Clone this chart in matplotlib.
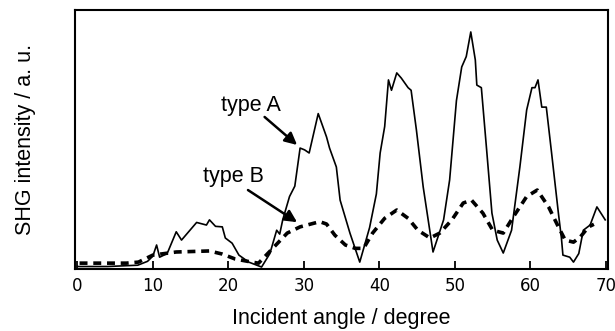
import numpy as np
from matplotlib import pyplot as plt

# type A (solid) - incident angle / intensity
angle_a = [0, 4, 8, 9.3, 10, 10.5, 10.9, 11.9, 13.1, 13.8, 15.8, 17.1, 17.5, 18.3, 19.2, 19.6,
           20.5, 21.4, 22.7, 24.4, 25.5, 26.4, 26.8, 27.2, 28.1, 28.8, 29.5, 30.1, 30.7, 31.9,
           33.0, 33.4, 34.3, 34.8, 36.1, 37.4, 38.7, 39.6, 40.1, 40.7, 41.2, 41.6, 42.3, 42.9,
           43.8, 44.2, 44.9, 45.8, 47.1, 48.5, 49.3, 50.2, 50.9, 51.5, 52.1, 52.7, 52.9, 53.5,
           54.2, 54.9, 55.6, 56.4, 57.5, 58.6, 59.5, 60.2, 60.6, 61.0, 61.5, 62.1, 62.8, 63.7,
           64.1, 64.3, 65.2, 65.7, 66.4, 67.0, 67.9, 68.8, 69.9]
int_a = [1, 1, 1.5, 3, 5, 9.3, 4.6, 6, 14.4, 11.2, 18, 17, 19, 16.5, 16.3, 12,
         10, 5.4, 2.7, 0.8, 6, 15, 13.5, 19, 28, 32, 46.7, 46, 44.8, 60,
         51, 46.7, 39.4, 26.6, 13.9, 2.7, 16, 29, 44.8, 55, 73, 69, 75.7, 73.7,
         70, 69, 53.7, 31.7, 6.6, 19, 34.4, 65, 78, 82, 91.5, 80.7, 71, 70,
         46, 21.6, 11.2, 6.2, 15, 39.4, 61.4, 70, 70, 73, 62.5, 62.5, 44.8, 21.6,
         12, 5.4, 4.6, 2.7, 6, 15, 17, 24, 19]

# type B (dashed)
angle_b = [0.3, 4, 6.5, 8.1, 10, 13.1, 17.5, 19.2, 20.9, 23.1, 24, 26, 27.8, 29.5, 32.1, 33,
           34.1, 35.5, 36.8, 37.9, 39.1, 40.7, 42.3, 43.8, 45.1, 46.7, 48, 49.6, 51.1, 52.2,
           53.7, 55.0, 56.4, 57.7, 59.5, 60.9, 62.4, 63.7, 64.6, 65.7, 66.6, 67.7, 68.4]
int_b = [2.3, 2.3, 2.3, 2.7, 5.4, 6.6, 7, 5.8, 3.9, 2.7, 2.3, 8.4, 13.9, 16.3, 18.3, 17.4,
         13.1, 9.3, 8, 8, 13.9, 19.6, 22.8, 19.6, 15, 12, 13.9, 19, 25.5, 26.6,
         21.6, 15, 13.9, 20, 28, 30.5, 24, 16.3, 11.2, 10.4, 12.4, 16.3, 17.3]

plt.rcParams['font.family'] = ['Liberation Sans', 'DejaVu Sans']

fig = plt.figure(figsize=(6.15, 3.31), dpi=100)
ax = fig.add_axes([0.122, 0.187, 0.867, 0.783])

ax.plot(angle_a, int_a, color='black', lw=1.2)
ax.plot(angle_b, int_b, color='black', lw=2.6, ls=(0, (2.2, 1.6)))

ax.set_xlim(-0.3, 70.3)
ax.set_ylim(0, 100)
ax.set_xticks(np.arange(0, 71, 10))
ax.set_yticks([])
ax.tick_params(axis='x', direction='in', length=6, width=1.3, labelsize=12, pad=6)
for lab in ax.get_xticklabels():
    lab.set_family('DejaVu Sans')
for s in ax.spines.values():
    s.set_linewidth(1.5)

ax.set_xlabel('Incident angle / degree', fontsize=15.5, labelpad=9)
ax.set_ylabel('SHG intensity / a. u.', fontsize=15.5, labelpad=28)

# labels and arrows
ax.text(23.0, 63.3, 'type A', fontsize=15.5, ha='center', va='center')
ax.text(20.7, 35.9, 'type B', fontsize=15.5, ha='center', va='center')
arrow = dict(arrowstyle='-|>', color='black', lw=1.8, mutation_scale=18, shrinkA=0, shrinkB=0)
ax.annotate('', xy=(29.1, 47.9), xytext=(24.8, 58.7), arrowprops=arrow)
ax.annotate('', xy=(29.1, 18.1), xytext=(22.6, 30.5), arrowprops=arrow)

fig.savefig('out.png', dpi=100)
